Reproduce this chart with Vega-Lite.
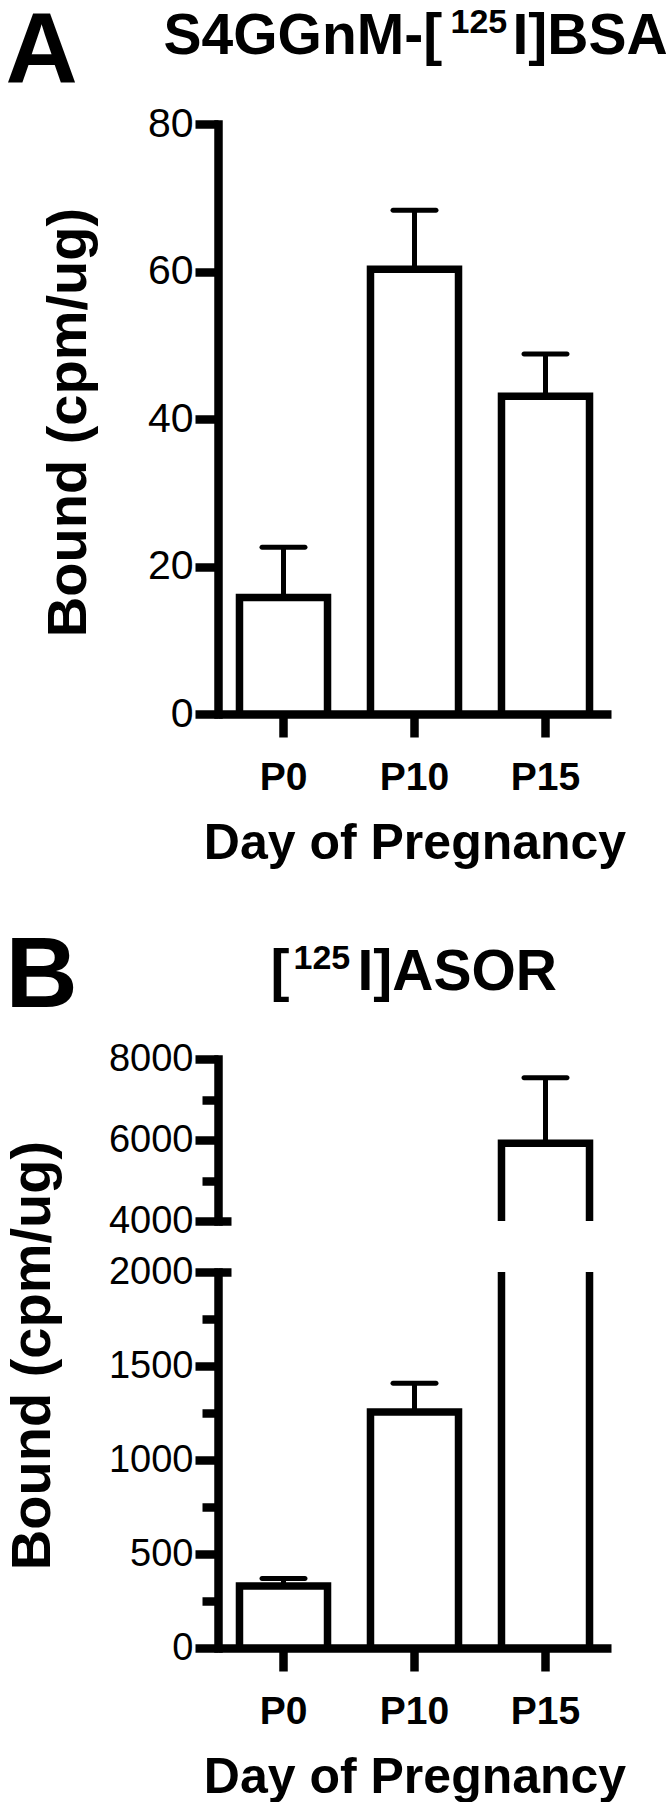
{
  "$schema": "https://vega.github.io/schema/vega-lite/v6.json",
  "background": "white",
  "padding": {"left": 3, "top": 2, "right": 0, "bottom": 0},
  "config": {
    "view": {"stroke": null},
    "font": "Liberation Sans",
    "axis": {
      "domainColor": "black", "tickColor": "black", "labelColor": "black", "titleColor": "black",
      "grid": false, "domainWidth": 8.5, "tickWidth": 8.5,
      "labelFont": "Liberation Sans", "titleFont": "Liberation Sans",
      "labelFlush": false, "labelOverlap": false
    }
  },
  "datasets": {
    "bsa": [
      {"day": "P0", "mean": 15.8, "upper": 22.6},
      {"day": "P10", "mean": 60.3, "upper": 68.3},
      {"day": "P15", "mean": 43.1, "upper": 48.8}
    ],
    "asor": [
      {"day": "P0", "mean": 330, "upper": 370},
      {"day": "P10", "mean": 1255, "upper": 1408},
      {"day": "P15", "mean": 5920, "upper": 7540}
    ]
  },
  "spacing": 58,
  "vconcat": [
    {
      "width": 393,
      "height": 590,
      "data": {"name": "bsa"},
      "layer": [
        {
          "mark": {"type": "bar", "fill": "white", "stroke": "black", "strokeWidth": 7.5, "strokeJoin": "miter", "width": {"band": 0.672}},
          "encoding": {
            "x": {
              "field": "day", "type": "nominal", "sort": ["P0", "P10", "P15"],
              "scale": {"paddingInner": 0, "paddingOuter": 0},
              "axis": {
                "orient": "bottom",
                "title": "Day of Pregnancy", "titleFontSize": 50, "titleFontWeight": "bold",
                "titleY": 144, "titleBaseline": "alphabetic",
                "tickSize": 23, "labelFontSize": 39, "labelFontWeight": "bold", "labelPadding": 21, "labelAngle": 0,
                "domainCap": "butt"
              }
            },
            "y": {
              "field": "mean", "type": "quantitative",
              "scale": {"domain": [0, 80], "nice": false},
              "axis": {
                "orient": "left",
                "values": [0, 20, 40, 60, 80], "tickSize": 23, "labelFontSize": 41, "labelPadding": 2,
                "domainCap": "square",
                "title": "Bound (cpm/ug)", "titleFontSize": 56, "titleFontWeight": "bold",
                "titleAngle": 270, "titleX": -133, "titleY": 298, "titleAlign": "center", "titleBaseline": "alphabetic"
              }
            }
          }
        },
        {
          "mark": {"type": "rule", "strokeWidth": 5, "color": "black"},
          "encoding": {
            "x": {
              "field": "day", "type": "nominal", "sort": ["P0", "P10", "P15"],
              "axis": {
                "orient": "top", "domain": false, "ticks": false, "labels": false,
                "title": "S4GGnM-[", "titleFontSize": 57, "titleFontWeight": "bold", "titleAngle": 0,
                "titleX": -55, "titleY": -71, "titleAlign": "left", "titleBaseline": "alphabetic"
              }
            },
            "y": {
              "field": "mean", "type": "quantitative",
              "axis": {
                "orient": "left", "domain": false, "ticks": false, "labels": false,
                "title": "125", "titleFontSize": 34, "titleFontWeight": "bold", "titleAngle": 0,
                "titleX": 232, "titleY": -91.5, "titleAlign": "left", "titleBaseline": "alphabetic"
              }
            },
            "y2": {"field": "upper"}
          }
        },
        {
          "mark": {"type": "tick", "orient": "horizontal", "size": 48, "thickness": 5, "color": "black", "opacity": 1, "cornerRadius": 2.5},
          "encoding": {
            "x": {
              "field": "day", "type": "nominal", "sort": ["P0", "P10", "P15"],
              "axis": {
                "orient": "top", "domain": false, "ticks": false, "labels": false,
                "title": "I]BSA", "titleFontSize": 57, "titleFontWeight": "bold", "titleAngle": 0,
                "titleX": 294, "titleY": -71, "titleAlign": "left", "titleBaseline": "alphabetic"
              }
            },
            "y": {
              "field": "upper", "type": "quantitative",
              "axis": {
                "orient": "left", "domain": false, "ticks": false, "labels": false,
                "title": "A", "titleFontSize": 100, "titleFontWeight": "bold", "titleAngle": 0,
                "titleX": -213, "titleY": -42, "titleAlign": "left", "titleBaseline": "alphabetic"
              }
            }
          }
        }
      ],
      "resolve": {"axis": {"x": "independent", "y": "independent"}}
    },
    {
      "bounds": "flush",
      "spacing": 51,
      "vconcat": [
        {
          "width": 393,
          "height": 162,
          "data": {"name": "asor"},
          "layer": [
            {
              "mark": {"type": "bar", "fill": "white", "stroke": "black", "strokeWidth": 7.5, "strokeJoin": "miter", "width": {"band": 0.672}, "clip": true},
              "encoding": {
                "x": {
                  "field": "day", "type": "nominal", "sort": ["P0", "P10", "P15"],
                  "scale": {"paddingInner": 0, "paddingOuter": 0},
                  "axis": {
                    "orient": "top", "domain": false, "ticks": false, "labels": false,
                    "title": "[", "titleFontSize": 57, "titleFontWeight": "bold", "titleAngle": 0,
                    "titleX": 52, "titleY": -70, "titleAlign": "left", "titleBaseline": "alphabetic"
                  }
                },
                "y": {
                  "field": "mean", "type": "quantitative",
                  "scale": {"domain": [4000, 8000], "nice": false, "zero": false},
                  "axis": {
                    "orient": "left", "values": [4000, 6000, 8000], "format": "d", "tickSize": 23,
                    "labelFontSize": 38, "labelPadding": 2,
                    "domainCap": "square", "title": null
                  }
                }
              }
            },
            {
              "mark": {"type": "rule", "strokeWidth": 5, "color": "black", "clip": true},
              "encoding": {
                "x": {
                  "field": "day", "type": "nominal", "sort": ["P0", "P10", "P15"],
                  "axis": {
                    "orient": "top", "domain": false, "ticks": false, "labels": false,
                    "title": "I]ASOR", "titleFontSize": 57, "titleFontWeight": "bold", "titleAngle": 0,
                    "titleX": 139, "titleY": -70, "titleAlign": "left", "titleBaseline": "alphabetic"
                  }
                },
                "y": {
                  "field": "mean", "type": "quantitative",
                  "axis": {
                    "orient": "left", "values": [5000, 7000], "tickSize": 16, "labels": false, "domain": false,
                    "title": "125", "titleFontSize": 34, "titleFontWeight": "bold", "titleAngle": 0,
                    "titleX": 75, "titleY": -91, "titleAlign": "left", "titleBaseline": "alphabetic"
                  }
                },
                "y2": {"field": "upper"}
              }
            },
            {
              "mark": {"type": "tick", "orient": "horizontal", "size": 48, "thickness": 5, "color": "black", "opacity": 1, "cornerRadius": 2.5, "clip": true},
              "encoding": {
                "x": {"field": "day", "type": "nominal", "sort": ["P0", "P10", "P15"], "axis": null},
                "y": {
                  "field": "upper", "type": "quantitative",
                  "axis": {
                    "orient": "left", "values": [4000], "tickSize": -13, "labels": false, "domain": false,
                    "title": "B", "titleFontSize": 100, "titleFontWeight": "bold", "titleAngle": 0,
                    "titleX": -213, "titleY": -53, "titleAlign": "left", "titleBaseline": "alphabetic"
                  }
                }
              }
            }
          ],
          "resolve": {"axis": {"x": "independent", "y": "independent"}}
        },
        {
          "width": 393,
          "height": 376,
          "data": {"name": "asor"},
          "layer": [
            {
              "mark": {"type": "bar", "fill": "white", "stroke": "black", "strokeWidth": 7.5, "strokeJoin": "miter", "width": {"band": 0.672}, "clip": true},
              "encoding": {
                "x": {
                  "field": "day", "type": "nominal", "sort": ["P0", "P10", "P15"],
                  "scale": {"paddingInner": 0, "paddingOuter": 0},
                  "axis": {
                    "orient": "bottom",
                    "title": "Day of Pregnancy", "titleFontSize": 50, "titleFontWeight": "bold",
                    "titleY": 144, "titleBaseline": "alphabetic",
                    "tickSize": 23, "labelFontSize": 39, "labelFontWeight": "bold", "labelPadding": 21, "labelAngle": 0,
                    "domainCap": "butt"
                  }
                },
                "y": {
                  "field": "mean", "type": "quantitative",
                  "scale": {"domain": [0, 2000], "nice": false},
                  "axis": {
                    "orient": "left", "values": [0, 500, 1000, 1500, 2000], "format": "d", "tickSize": 23,
                    "labelFontSize": 38, "labelPadding": 2,
                    "domainCap": "square",
                    "title": "Bound (cpm/ug)", "titleFontSize": 56, "titleFontWeight": "bold",
                    "titleAngle": 270, "titleX": -169, "titleY": 83, "titleAlign": "center", "titleBaseline": "alphabetic"
                  }
                }
              }
            },
            {
              "mark": {"type": "rule", "strokeWidth": 5, "color": "black", "clip": true},
              "encoding": {
                "x": {"field": "day", "type": "nominal", "sort": ["P0", "P10", "P15"], "axis": null},
                "y": {
                  "field": "mean", "type": "quantitative",
                  "axis": {"orient": "left", "values": [250, 750, 1250, 1750], "tickSize": 16, "labels": false, "domain": false, "title": null}
                },
                "y2": {"field": "upper"}
              }
            },
            {
              "mark": {"type": "tick", "orient": "horizontal", "size": 48, "thickness": 5, "color": "black", "opacity": 1, "cornerRadius": 2.5, "clip": true},
              "encoding": {
                "x": {"field": "day", "type": "nominal", "sort": ["P0", "P10", "P15"], "axis": null},
                "y": {
                  "field": "upper", "type": "quantitative",
                  "axis": {"orient": "left", "values": [2000], "tickSize": -13, "labels": false, "domain": false, "title": null}
                }
              }
            }
          ],
          "resolve": {"axis": {"x": "independent", "y": "independent"}}
        }
      ]
    }
  ]
}
